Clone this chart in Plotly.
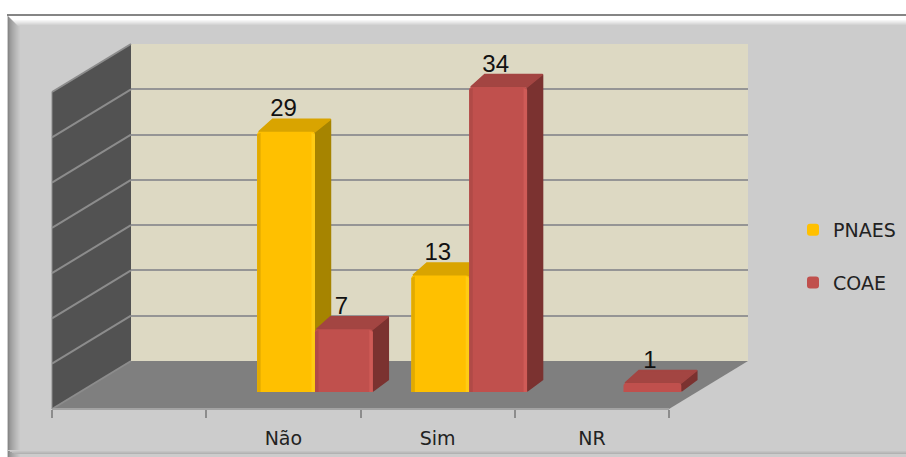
import plotly.graph_objects as go

categories = [" ", "Não", "Sim", "NR"]
series_names = ["PNAES", "COAE"]
positions = [1, 2, 3]
pnaes = [29, 13, None]
coae = [7, 34, 1]
axis_max = 35
axis_step = 5

W, H = 906, 457
FRONT_Y = 409; BACK_Y = 361; TOP_Y = 44
L_F = 52; R_F = 669; L_B = 131; R_B = 748
BAR_Y0 = 392; PX_PER_UNIT = 8.97
BAR_X_LEFT = 83.6; PX_PER_CAT = 154.25
DEPTH_X = 15.5 / PX_PER_CAT; DEPTH_Y = 12.5 / PX_PER_UNIT
BAR_W = 0.375

def px(x): return x / W
def py(y): return 1 - y / H

shapes = []
def rect(x0, y0, x1, y1, color):
    shapes.append(dict(type="rect", xref="paper", yref="paper", layer="below",
                       x0=px(x0), x1=px(x1), y0=py(y0), y1=py(y1),
                       fillcolor=color, line=dict(width=0)))
def poly(points, color):
    path = "M" + " L".join(f"{px(a):.5f},{py(b):.5f}" for a, b in points) + " Z"
    shapes.append(dict(type="path", xref="paper", yref="paper", layer="below",
                       path=path, fillcolor=color, line=dict(width=0)))
def seg(x0, y0, x1, y1, color, w=2):
    shapes.append(dict(type="line", xref="paper", yref="paper", layer="below",
                       x0=px(x0), x1=px(x1), y0=py(y0), y1=py(y1),
                       line=dict(color=color, width=w)))
def mix(a, b, t):
    return "#%02x%02x%02x" % tuple(round(a[i] + (b[i] - a[i]) * t) for i in range(3))

# chart frame with bevelled edges
GREY = (204, 204, 204)
rect(7, 14, W, H, "#cccccc")
for i in range(13):
    rect(8 + i, 14, 9 + i, H, mix((135, 135, 135), GREY, (i / 12) ** 0.7))
for i in range(4):
    rect(8 + i * 2, 450 + i, W, 451 + i, mix(GREY, (178, 178, 178), i / 3))
for i in range(10):
    c = mix((255, 255, 255), GREY, max(0, (i - 3) / 6))
    poly([(8 + i, 16 + i), (W, 16 + i), (W, 17 + i), (9 + i, 17 + i)], c)
rect(7, 14, W, 16, "#858585")

# floor and walls
poly([(L_F, FRONT_Y), (L_B, BACK_Y), (R_B, BACK_Y), (R_F, FRONT_Y)], "#7f7f7f")
rect(L_B, TOP_Y, R_B, BACK_Y, "#ddd9c3")
poly([(L_F, FRONT_Y), (L_B, BACK_Y), (L_B, TOP_Y), (L_F, TOP_Y + BACK_Y - FRONT_Y + 96)], "#525252")
wall_h = (BACK_Y - TOP_Y) / axis_max
for v in range(0, axis_max + 1, axis_step):
    yb = BACK_Y - v * wall_h
    seg(L_F, yb + FRONT_Y - BACK_Y, L_B, yb, "#8c8c8c")
seg(L_F, FRONT_Y, R_F, FRONT_Y, "#a3a3a3")
seg(L_F, TOP_Y + FRONT_Y - BACK_Y, L_F, FRONT_Y, "#8c8c8c", 1)

styles = {
    "PNAES": dict(front="#ffc000", side="#a68400", top="#d9a400", left="#e2aa00", right="#ffcc14"),
    "COAE": dict(front="#c0504d", side="#7b3230", top="#a34542", left="#b04a47", right="#cf5b57"),
}

fig = go.Figure()

# back wall gridlines (own scale)
fig.add_trace(go.Scatter(x=[0], y=[0], mode="none", xaxis="x", yaxis="y",
                         showlegend=False, hoverinfo="skip"))
# category axis at the front of the floor
fig.add_trace(go.Scatter(x=categories, y=[0] * len(categories), mode="none", xaxis="x2", yaxis="y2",
                         showlegend=False, hoverinfo="skip"))

def face(pts, color, xa, ya, edge=0):
    fig.add_trace(go.Scatter(x=[p[0] for p in pts] + [pts[0][0]], y=[p[1] for p in pts] + [pts[0][1]],
                             mode="lines", fill="toself", fillcolor=color,
                             line=dict(width=edge, color=color),
                             xaxis=xa, yaxis=ya, showlegend=False, hoverinfo="skip"))

all_series = [("PNAES", pnaes, -BAR_W), ("COAE", coae, 0)]

# depth faces, behind the fronts
for name, vals, off in all_series:
    st = styles[name]
    for p, v in zip(positions, vals):
        if v is None:
            continue
        xl, xr = p + off, p + off + BAR_W
        face([(xr, 0.1), (xr, v), (xr + DEPTH_X, v + DEPTH_Y), (xr + DEPTH_X, DEPTH_Y)], st["side"], "x3", "y3", 1.5)
        face([(xl + 0.01, v), (xr, v), (xr + DEPTH_X, v + DEPTH_Y), (xl + DEPTH_X, v + DEPTH_Y)], st["top"], "x3", "y3", 1.5)

# bar fronts
for name, vals, off in all_series:
    fig.add_trace(go.Bar(x=positions, y=vals, name=name, xaxis="x4", yaxis="y4",
                         marker=dict(color=styles[name]["front"], line=dict(width=0), cornerradius=3),
                         legendgroup=name, hoverinfo="x+y+name"))

# bevel strips on the fronts
STRIP = 3.5 / PX_PER_CAT
for name, vals, off in all_series:
    st = styles[name]
    for p, v in zip(positions, vals):
        if v is None or v < 2:
            continue
        xl, xr = p + off, p + off + BAR_W
        face([(xl, 0), (xl, v - 0.3), (xl + STRIP, v - 0.1), (xl + STRIP, 0)], st["left"], "x4", "y4")
        face([(xr - STRIP, 0), (xr - STRIP, v - 0.1), (xr, v - 0.3), (xr, 0)], st["right"], "x4", "y4")

# value labels above each bar
LABEL_DROP = 3 / PX_PER_UNIT
for name, vals, off in all_series:
    lx = [p + off + BAR_W / 2 - 2.5 / PX_PER_CAT for p, v in zip(positions, vals) if v is not None]
    ly = [v + DEPTH_Y - LABEL_DROP for v in vals if v is not None]
    fig.add_trace(go.Scatter(x=lx, y=ly, text=[str(v) for v in vals if v is not None],
                             mode="text", textposition="top center", xaxis="x4", yaxis="y4",
                             textfont=dict(family="Liberation Sans", size=24, color="#111111"),
                             showlegend=False, hoverinfo="skip"))

hidden = dict(showgrid=False, zeroline=False, showticklabels=False, ticks="", showline=False)
bar_top = 40
bar_x_dom = [px(BAR_X_LEFT), px(BAR_X_LEFT + 4 * PX_PER_CAT)]
bar_y_dom = [py(BAR_Y0), py(BAR_Y0 - bar_top * PX_PER_UNIT)]
bar_xr = [-0.5, 3.5]

fig.update_layout(
    width=W, height=H, margin=dict(l=0, r=0, t=0, b=0),
    paper_bgcolor="white", plot_bgcolor="rgba(0,0,0,0)",
    shapes=shapes, barmode="group", bargap=0.25, bargroupgap=0,
    font=dict(family="DejaVu Sans", color="#222222"),
    hovermode="closest",
    legend=dict(x=px(793), y=py(211), xanchor="left", yanchor="top", bgcolor="rgba(0,0,0,0)",
                font=dict(family="DejaVu Sans", size=19, color="#222222"),
                tracegroupgap=25, itemclick=False, itemdoubleclick=False),
    xaxis=dict(domain=[px(L_B), px(R_B)], range=[0, 1], anchor="y", **hidden),
    yaxis=dict(domain=[py(BACK_Y), py(TOP_Y)], range=[0, axis_max], anchor="x", dtick=axis_step,
               showgrid=True, gridcolor="#959595", gridwidth=2, zeroline=False,
               showticklabels=False, ticks="", showline=False),
    xaxis2=dict(domain=[px(L_F), px(R_F)], type="category", categoryorder="array", categoryarray=categories,
                range=[-0.5, 3.5], anchor="y2", tickson="boundaries", ticks="outside", ticklen=8,
                tickcolor="#8c8c8c", tickwidth=2, showgrid=False, zeroline=False, showline=False,
                ticklabelstandoff=16,
                tickfont=dict(family="DejaVu Sans", size=19, color="#222222")),
    yaxis2=dict(domain=[py(FRONT_Y), py(FRONT_Y - 40)], range=[0, 1], anchor="x2", **hidden),
    xaxis3=dict(domain=bar_x_dom, range=bar_xr, anchor="y3", **hidden),
    yaxis3=dict(domain=bar_y_dom, range=[0, bar_top], anchor="x3", **hidden),
    xaxis4=dict(domain=bar_x_dom, range=bar_xr, anchor="y4", **hidden),
    yaxis4=dict(domain=bar_y_dom, range=[0, bar_top], anchor="x4", **hidden),
)

fig.write_html("out.html", config={"displayModeBar": False},
               post_script="document.body.style.margin='0';document.body.style.overflow='hidden';")
